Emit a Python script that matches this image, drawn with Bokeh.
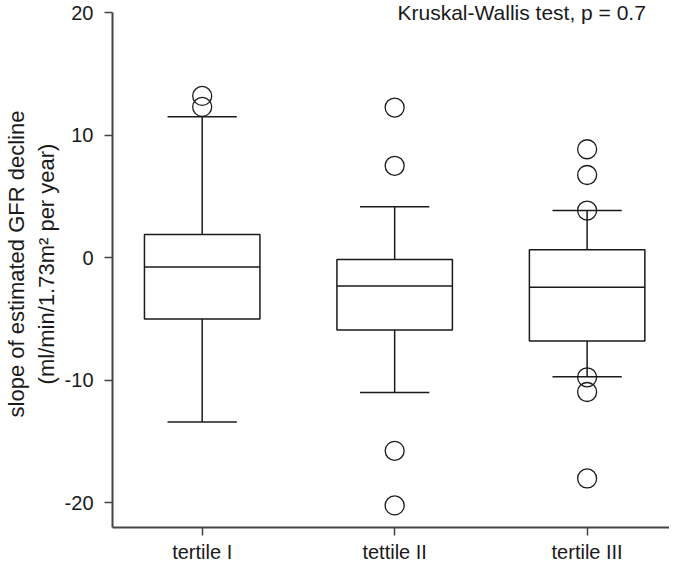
from bokeh.plotting import figure
from bokeh.models import FixedTicker, Range1d, Label
from bokeh.embed import file_html
from bokeh.resources import INLINE

# ---- data ----
categories = ["tertile I", "tettile II", "tertile III"]
q1 = [-5.0, -5.9, -6.8]
median = [-0.75, -2.3, -2.4]
q3 = [1.9, -0.15, 0.65]
whisker_low = [-13.4, -11.0, -9.7]
whisker_high = [11.5, 4.15, 3.85]
outliers = [
    [13.2, 12.3],
    [12.25, 7.5, -15.75, -20.2],
    [8.85, 6.75, 3.85, -9.75, -10.95, -18.0],
]
y_ticks = [-20, -10, 0, 10, 20]
annotation_text = "Kruskal-Wallis test, p = 0.7"
y_title = "slope of estimated GFR decline\n(ml/min/1.73m\u00b2 per year)"

xs = list(range(1, len(categories) + 1))
box_w = 0.6
cap_w = 0.36

FONT = "Liberation Sans"
INK = "#1a1a1a"

Y0, Y1 = -22.0, 20.98

p = figure(width=669, height=565, output_backend="svg", toolbar_location=None,
           x_range=Range1d(0.534, 3.428), y_range=Range1d(Y0, Y1),
           min_border_left=0, min_border_right=0, min_border_top=0, min_border_bottom=0)
p.outline_line_color = None
p.grid.visible = False
p.background_fill_color = "white"
p.border_fill_color = "white"

# whisker stems
p.segment(x0=xs, y0=whisker_low, x1=xs, y1=q1, line_color=INK, line_width=1.5)
p.segment(x0=xs, y0=q3, x1=xs, y1=whisker_high, line_color=INK, line_width=1.5)
# caps
p.segment(x0=[x - cap_w / 2 for x in xs], y0=whisker_low,
          x1=[x + cap_w / 2 for x in xs], y1=whisker_low, line_color=INK, line_width=1.5)
p.segment(x0=[x - cap_w / 2 for x in xs], y0=whisker_high,
          x1=[x + cap_w / 2 for x in xs], y1=whisker_high, line_color=INK, line_width=1.5)
# boxes
p.vbar(x=xs, bottom=q1, top=q3, width=box_w, fill_color=None,
       line_color=INK, line_width=1.5)
# medians
p.segment(x0=[x - box_w / 2 for x in xs], y0=median,
          x1=[x + box_w / 2 for x in xs], y1=median, line_color=INK, line_width=1.5)
# outliers
ox, oy = [], []
for x, vals in zip(xs, outliers):
    for v in vals:
        ox.append(x)
        oy.append(v)
p.scatter(x=ox, y=oy, size=19, marker="circle", fill_color=None,
          line_color=INK, line_width=1.3)

# annotation (top right of the plot area)
p.add_layout(Label(x=2.66, y=Y1, text=annotation_text, text_font=FONT,
                   text_font_size="21px", text_color=INK,
                   text_baseline="top", text_align="center"))

# axes
for ax in (p.xaxis[0], p.yaxis[0]):
    ax.axis_line_color = "#444444"
    ax.axis_line_width = 2
    ax.major_tick_line_color = "#444444"
    ax.major_tick_line_width = 1.5
    ax.major_tick_out = 8
    ax.major_tick_in = 0
    ax.minor_tick_line_color = None
    ax.major_label_text_font = FONT
    ax.major_label_text_font_size = "20px"
    ax.major_label_text_color = INK

p.xaxis.ticker = FixedTicker(ticks=xs)
p.xaxis.major_label_overrides = {x: c for x, c in zip(xs, categories)}
p.xaxis.major_label_standoff = 5
p.xaxis.axis_label_standoff = 0

p.yaxis.ticker = FixedTicker(ticks=y_ticks)
p.yaxis.major_label_overrides = {t: str(t) for t in y_ticks}
p.yaxis.bounds = (Y0, 20)
p.yaxis.major_label_standoff = 11
p.yaxis.axis_label = y_title
p.yaxis.axis_label_text_font = FONT
p.yaxis.axis_label_text_font_size = "22px"
p.yaxis.axis_label_text_font_style = "normal"
p.yaxis.axis_label_text_color = INK
p.yaxis.axis_label_standoff = 3

open("out.html", "w").write(file_html(p, INLINE))
